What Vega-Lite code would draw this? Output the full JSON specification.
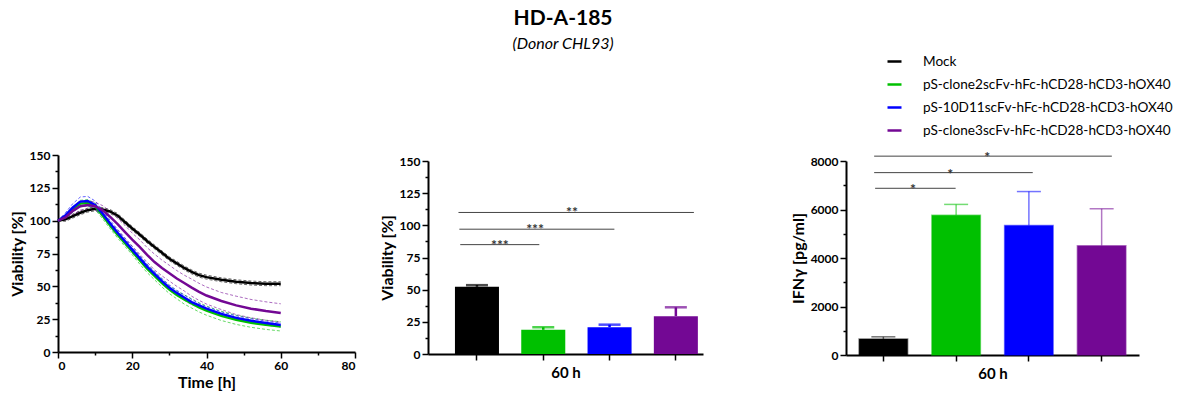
{
  "$schema": "https://vega.github.io/schema/vega-lite/v6.json",
  "padding": {"left": 9, "top": 8, "right": 3, "bottom": 5},
  "title": {
    "text": "HD-A-185",
    "subtitle": "(Donor CHL93)",
    "anchor": "middle",
    "frame": "bounds",
    "dx": -28,
    "offset": 1,
    "font": "Lato",
    "fontSize": 21,
    "fontWeight": "bold",
    "color": "black",
    "subtitleFont": "Lato",
    "subtitleFontSize": 16,
    "subtitleFontStyle": "italic",
    "subtitleColor": "black",
    "subtitlePadding": 7
  },
  "config": {
    "font": "Lato",
    "view": {"stroke": null},
    "axis": {
      "grid": false,
      "domainColor": "black",
      "domainWidth": 2,
      "tickColor": "black",
      "tickWidth": 1.5,
      "labelFont": "Lato",
      "labelFontWeight": "bold",
      "labelFontSize": 12,
      "labelColor": "black",
      "labelPadding": 2,
      "labelOverlap": false,
      "titleFont": "Lato",
      "titleFontWeight": "bold",
      "titleFontSize": 16,
      "titleColor": "black"
    }
  },
  "datasets": {
    "curves": [
      {"group": "Mock", "t": 0, "mean": 100, "lo": 100, "hi": 100},
      {"group": "Mock", "t": 2, "mean": 101, "lo": 99.5, "hi": 102.5},
      {"group": "Mock", "t": 4, "mean": 103.5, "lo": 102, "hi": 105},
      {"group": "Mock", "t": 6, "mean": 106, "lo": 104.5, "hi": 107.5},
      {"group": "Mock", "t": 8, "mean": 108, "lo": 106.5, "hi": 109.5},
      {"group": "Mock", "t": 10, "mean": 109, "lo": 107.5, "hi": 110.5},
      {"group": "Mock", "t": 12, "mean": 108.5, "lo": 107, "hi": 110},
      {"group": "Mock", "t": 14, "mean": 107, "lo": 105.5, "hi": 108.5},
      {"group": "Mock", "t": 16, "mean": 104, "lo": 102.5, "hi": 105.5},
      {"group": "Mock", "t": 18, "mean": 99, "lo": 97.5, "hi": 100.5},
      {"group": "Mock", "t": 20, "mean": 94, "lo": 92.5, "hi": 95.5},
      {"group": "Mock", "t": 22, "mean": 89.5, "lo": 88, "hi": 91},
      {"group": "Mock", "t": 24, "mean": 84.5, "lo": 83, "hi": 86},
      {"group": "Mock", "t": 26, "mean": 80, "lo": 78.5, "hi": 81.5},
      {"group": "Mock", "t": 28, "mean": 75.5, "lo": 74, "hi": 77},
      {"group": "Mock", "t": 30, "mean": 71, "lo": 69.5, "hi": 72.5},
      {"group": "Mock", "t": 32, "mean": 67.5, "lo": 66, "hi": 69},
      {"group": "Mock", "t": 34, "mean": 64, "lo": 62.5, "hi": 65.5},
      {"group": "Mock", "t": 36, "mean": 61, "lo": 59.5, "hi": 62.5},
      {"group": "Mock", "t": 38, "mean": 58.5, "lo": 57, "hi": 60},
      {"group": "Mock", "t": 40, "mean": 57, "lo": 55.5, "hi": 58.5},
      {"group": "Mock", "t": 44, "mean": 55, "lo": 53.5, "hi": 56.5},
      {"group": "Mock", "t": 48, "mean": 53.5, "lo": 52, "hi": 55},
      {"group": "Mock", "t": 52, "mean": 52.5, "lo": 51, "hi": 54},
      {"group": "Mock", "t": 56, "mean": 52, "lo": 50.5, "hi": 53.5},
      {"group": "Mock", "t": 60, "mean": 52, "lo": 50.5, "hi": 53.5},
      {"group": "pS-clone2scFv-hFc-hCD28-hCD3-hOX40", "t": 0, "mean": 100, "lo": 100, "hi": 100},
      {"group": "pS-clone2scFv-hFc-hCD28-hCD3-hOX40", "t": 2, "mean": 103, "lo": 101.5, "hi": 104.5},
      {"group": "pS-clone2scFv-hFc-hCD28-hCD3-hOX40", "t": 4, "mean": 108.5, "lo": 106.5, "hi": 110.5},
      {"group": "pS-clone2scFv-hFc-hCD28-hCD3-hOX40", "t": 6, "mean": 113, "lo": 110.5, "hi": 115.5},
      {"group": "pS-clone2scFv-hFc-hCD28-hCD3-hOX40", "t": 8, "mean": 113.5, "lo": 111, "hi": 116},
      {"group": "pS-clone2scFv-hFc-hCD28-hCD3-hOX40", "t": 10, "mean": 111, "lo": 108.5, "hi": 113.5},
      {"group": "pS-clone2scFv-hFc-hCD28-hCD3-hOX40", "t": 12, "mean": 104, "lo": 101.5, "hi": 106.5},
      {"group": "pS-clone2scFv-hFc-hCD28-hCD3-hOX40", "t": 14, "mean": 96.5, "lo": 94, "hi": 99},
      {"group": "pS-clone2scFv-hFc-hCD28-hCD3-hOX40", "t": 16, "mean": 89.5, "lo": 87, "hi": 92},
      {"group": "pS-clone2scFv-hFc-hCD28-hCD3-hOX40", "t": 18, "mean": 83, "lo": 80.5, "hi": 85.5},
      {"group": "pS-clone2scFv-hFc-hCD28-hCD3-hOX40", "t": 20, "mean": 76.5, "lo": 74, "hi": 79},
      {"group": "pS-clone2scFv-hFc-hCD28-hCD3-hOX40", "t": 22, "mean": 70, "lo": 67, "hi": 73},
      {"group": "pS-clone2scFv-hFc-hCD28-hCD3-hOX40", "t": 24, "mean": 63.5, "lo": 60.5, "hi": 66.5},
      {"group": "pS-clone2scFv-hFc-hCD28-hCD3-hOX40", "t": 26, "mean": 58, "lo": 55, "hi": 61},
      {"group": "pS-clone2scFv-hFc-hCD28-hCD3-hOX40", "t": 28, "mean": 52.5, "lo": 49.5, "hi": 55.5},
      {"group": "pS-clone2scFv-hFc-hCD28-hCD3-hOX40", "t": 30, "mean": 47.5, "lo": 44.5, "hi": 50.5},
      {"group": "pS-clone2scFv-hFc-hCD28-hCD3-hOX40", "t": 32, "mean": 43.5, "lo": 40.5, "hi": 46.5},
      {"group": "pS-clone2scFv-hFc-hCD28-hCD3-hOX40", "t": 34, "mean": 40, "lo": 36.5, "hi": 43.5},
      {"group": "pS-clone2scFv-hFc-hCD28-hCD3-hOX40", "t": 36, "mean": 37, "lo": 33.5, "hi": 40.5},
      {"group": "pS-clone2scFv-hFc-hCD28-hCD3-hOX40", "t": 38, "mean": 34, "lo": 30.5, "hi": 37.5},
      {"group": "pS-clone2scFv-hFc-hCD28-hCD3-hOX40", "t": 40, "mean": 31.5, "lo": 28, "hi": 35},
      {"group": "pS-clone2scFv-hFc-hCD28-hCD3-hOX40", "t": 44, "mean": 27.5, "lo": 24, "hi": 31},
      {"group": "pS-clone2scFv-hFc-hCD28-hCD3-hOX40", "t": 48, "mean": 24.5, "lo": 21, "hi": 28},
      {"group": "pS-clone2scFv-hFc-hCD28-hCD3-hOX40", "t": 52, "mean": 22.3, "lo": 18.8, "hi": 25.8},
      {"group": "pS-clone2scFv-hFc-hCD28-hCD3-hOX40", "t": 56, "mean": 20.7, "lo": 17.2, "hi": 24.2},
      {"group": "pS-clone2scFv-hFc-hCD28-hCD3-hOX40", "t": 60, "mean": 19.5, "lo": 16, "hi": 23},
      {"group": "pS-10D11scFv-hFc-hCD28-hCD3-hOX40", "t": 0, "mean": 100, "lo": 100, "hi": 100},
      {"group": "pS-10D11scFv-hFc-hCD28-hCD3-hOX40", "t": 2, "mean": 104, "lo": 102, "hi": 106},
      {"group": "pS-10D11scFv-hFc-hCD28-hCD3-hOX40", "t": 4, "mean": 110, "lo": 107, "hi": 113},
      {"group": "pS-10D11scFv-hFc-hCD28-hCD3-hOX40", "t": 6, "mean": 114.5, "lo": 111, "hi": 118},
      {"group": "pS-10D11scFv-hFc-hCD28-hCD3-hOX40", "t": 8, "mean": 115, "lo": 111.5, "hi": 118.5},
      {"group": "pS-10D11scFv-hFc-hCD28-hCD3-hOX40", "t": 10, "mean": 112, "lo": 109, "hi": 115},
      {"group": "pS-10D11scFv-hFc-hCD28-hCD3-hOX40", "t": 12, "mean": 105.5, "lo": 103, "hi": 108},
      {"group": "pS-10D11scFv-hFc-hCD28-hCD3-hOX40", "t": 14, "mean": 98, "lo": 95.5, "hi": 100.5},
      {"group": "pS-10D11scFv-hFc-hCD28-hCD3-hOX40", "t": 16, "mean": 91, "lo": 88.5, "hi": 93.5},
      {"group": "pS-10D11scFv-hFc-hCD28-hCD3-hOX40", "t": 18, "mean": 84.5, "lo": 82, "hi": 87},
      {"group": "pS-10D11scFv-hFc-hCD28-hCD3-hOX40", "t": 20, "mean": 78, "lo": 75.5, "hi": 80.5},
      {"group": "pS-10D11scFv-hFc-hCD28-hCD3-hOX40", "t": 22, "mean": 71.5, "lo": 69.5, "hi": 73.5},
      {"group": "pS-10D11scFv-hFc-hCD28-hCD3-hOX40", "t": 24, "mean": 65, "lo": 63, "hi": 67},
      {"group": "pS-10D11scFv-hFc-hCD28-hCD3-hOX40", "t": 26, "mean": 59.5, "lo": 57.5, "hi": 61.5},
      {"group": "pS-10D11scFv-hFc-hCD28-hCD3-hOX40", "t": 28, "mean": 54, "lo": 52, "hi": 56},
      {"group": "pS-10D11scFv-hFc-hCD28-hCD3-hOX40", "t": 30, "mean": 49, "lo": 47, "hi": 51},
      {"group": "pS-10D11scFv-hFc-hCD28-hCD3-hOX40", "t": 32, "mean": 45, "lo": 43, "hi": 47},
      {"group": "pS-10D11scFv-hFc-hCD28-hCD3-hOX40", "t": 34, "mean": 41.5, "lo": 39.5, "hi": 43.5},
      {"group": "pS-10D11scFv-hFc-hCD28-hCD3-hOX40", "t": 36, "mean": 38, "lo": 36, "hi": 40},
      {"group": "pS-10D11scFv-hFc-hCD28-hCD3-hOX40", "t": 38, "mean": 35.5, "lo": 34, "hi": 37},
      {"group": "pS-10D11scFv-hFc-hCD28-hCD3-hOX40", "t": 40, "mean": 33, "lo": 31.5, "hi": 34.5},
      {"group": "pS-10D11scFv-hFc-hCD28-hCD3-hOX40", "t": 44, "mean": 29, "lo": 27.5, "hi": 30.5},
      {"group": "pS-10D11scFv-hFc-hCD28-hCD3-hOX40", "t": 48, "mean": 26, "lo": 24.5, "hi": 27.5},
      {"group": "pS-10D11scFv-hFc-hCD28-hCD3-hOX40", "t": 52, "mean": 23.8, "lo": 22.3, "hi": 25.3},
      {"group": "pS-10D11scFv-hFc-hCD28-hCD3-hOX40", "t": 56, "mean": 22, "lo": 20.5, "hi": 23.5},
      {"group": "pS-10D11scFv-hFc-hCD28-hCD3-hOX40", "t": 60, "mean": 20.5, "lo": 19, "hi": 22},
      {"group": "pS-clone3scFv-hFc-hCD28-hCD3-hOX40", "t": 0, "mean": 100, "lo": 100, "hi": 100},
      {"group": "pS-clone3scFv-hFc-hCD28-hCD3-hOX40", "t": 2, "mean": 102.5, "lo": 100.5, "hi": 104.5},
      {"group": "pS-clone3scFv-hFc-hCD28-hCD3-hOX40", "t": 4, "mean": 107.5, "lo": 104.5, "hi": 110.5},
      {"group": "pS-clone3scFv-hFc-hCD28-hCD3-hOX40", "t": 6, "mean": 111, "lo": 108, "hi": 114},
      {"group": "pS-clone3scFv-hFc-hCD28-hCD3-hOX40", "t": 8, "mean": 112, "lo": 109, "hi": 115},
      {"group": "pS-clone3scFv-hFc-hCD28-hCD3-hOX40", "t": 10, "mean": 111, "lo": 108, "hi": 114},
      {"group": "pS-clone3scFv-hFc-hCD28-hCD3-hOX40", "t": 12, "mean": 108, "lo": 104.5, "hi": 111.5},
      {"group": "pS-clone3scFv-hFc-hCD28-hCD3-hOX40", "t": 14, "mean": 103, "lo": 99, "hi": 107},
      {"group": "pS-clone3scFv-hFc-hCD28-hCD3-hOX40", "t": 16, "mean": 97.5, "lo": 93, "hi": 102},
      {"group": "pS-clone3scFv-hFc-hCD28-hCD3-hOX40", "t": 18, "mean": 91.5, "lo": 86.5, "hi": 96.5},
      {"group": "pS-clone3scFv-hFc-hCD28-hCD3-hOX40", "t": 20, "mean": 85.5, "lo": 80.5, "hi": 90.5},
      {"group": "pS-clone3scFv-hFc-hCD28-hCD3-hOX40", "t": 22, "mean": 80, "lo": 74.5, "hi": 85.5},
      {"group": "pS-clone3scFv-hFc-hCD28-hCD3-hOX40", "t": 24, "mean": 74, "lo": 68.5, "hi": 79.5},
      {"group": "pS-clone3scFv-hFc-hCD28-hCD3-hOX40", "t": 26, "mean": 68.5, "lo": 62.5, "hi": 74.5},
      {"group": "pS-clone3scFv-hFc-hCD28-hCD3-hOX40", "t": 28, "mean": 64, "lo": 58, "hi": 70},
      {"group": "pS-clone3scFv-hFc-hCD28-hCD3-hOX40", "t": 30, "mean": 60, "lo": 54, "hi": 66},
      {"group": "pS-clone3scFv-hFc-hCD28-hCD3-hOX40", "t": 32, "mean": 56, "lo": 50, "hi": 62},
      {"group": "pS-clone3scFv-hFc-hCD28-hCD3-hOX40", "t": 34, "mean": 52.5, "lo": 46.5, "hi": 58.5},
      {"group": "pS-clone3scFv-hFc-hCD28-hCD3-hOX40", "t": 36, "mean": 49, "lo": 42.5, "hi": 55.5},
      {"group": "pS-clone3scFv-hFc-hCD28-hCD3-hOX40", "t": 38, "mean": 45.8, "lo": 39.3, "hi": 52.3},
      {"group": "pS-clone3scFv-hFc-hCD28-hCD3-hOX40", "t": 40, "mean": 43, "lo": 36.5, "hi": 49.5},
      {"group": "pS-clone3scFv-hFc-hCD28-hCD3-hOX40", "t": 44, "mean": 38.8, "lo": 32.3, "hi": 45.3},
      {"group": "pS-clone3scFv-hFc-hCD28-hCD3-hOX40", "t": 48, "mean": 35.5, "lo": 28.5, "hi": 42.5},
      {"group": "pS-clone3scFv-hFc-hCD28-hCD3-hOX40", "t": 52, "mean": 33, "lo": 26, "hi": 40},
      {"group": "pS-clone3scFv-hFc-hCD28-hCD3-hOX40", "t": 56, "mean": 31.2, "lo": 24.2, "hi": 38.2},
      {"group": "pS-clone3scFv-hFc-hCD28-hCD3-hOX40", "t": 60, "mean": 29.7, "lo": 22.7, "hi": 36.7}
    ],
    "viability": [
      {"group": "Mock", "value": 52.3, "top": 53.5},
      {"group": "pS-clone2scFv-hFc-hCD28-hCD3-hOX40", "value": 18.8, "top": 20.8},
      {"group": "pS-10D11scFv-hFc-hCD28-hCD3-hOX40", "value": 20.8, "top": 22.8},
      {"group": "pS-clone3scFv-hFc-hCD28-hCD3-hOX40", "value": 29.4, "top": 36.3}
    ],
    "ifng": [
      {"group": "Mock", "value": 660, "top": 750},
      {"group": "pS-clone2scFv-hFc-hCD28-hCD3-hOX40", "value": 5760, "top": 6210},
      {"group": "pS-10D11scFv-hFc-hCD28-hCD3-hOX40", "value": 5340, "top": 6740},
      {"group": "pS-clone3scFv-hFc-hCD28-hCD3-hOX40", "value": 4510, "top": 6030}
    ],
    "sig": [
      {"id": "v1", "from": "Mock", "to": "pS-clone2scFv-hFc-hCD28-hCD3-hOX40", "y": 85, "label": "***"},
      {"id": "v2", "from": "Mock", "to": "pS-10D11scFv-hFc-hCD28-hCD3-hOX40", "y": 97, "label": "***"},
      {"id": "v3", "from": "Mock", "to": "pS-clone3scFv-hFc-hCD28-hCD3-hOX40", "y": 110, "label": "**"},
      {"id": "i1", "from": "Mock", "to": "pS-clone2scFv-hFc-hCD28-hCD3-hOX40", "y": 6875, "label": "*"},
      {"id": "i2", "from": "Mock", "to": "pS-10D11scFv-hFc-hCD28-hCD3-hOX40", "y": 7520, "label": "*"},
      {"id": "i3", "from": "Mock", "to": "pS-clone3scFv-hFc-hCD28-hCD3-hOX40", "y": 8200, "label": "*"}
    ]
  },
  "spacing": 87,
  "hconcat": [
    {
      "spacing": 23,
      "hconcat": [
        {
          "width": 297,
          "height": 197,
          "data": {"name": "curves"},
          "encoding": {
            "x": {
              "field": "t", "type": "quantitative",
              "scale": {"domain": [0, 80], "nice": false},
              "axis": {
                "title": "Time [h]", "titlePadding": 3, "labelOverlap": false, "tickCount": 20,
                "values": [0, 10, 20, 30, 40, 50, 60, 70, 80],
                "labelExpr": "datum.value % 20 === 0 ? datum.value : ''",
                "tickSize": {"condition": {"test": "datum.value % 20 === 0", "value": 6}, "value": 3}
              }
            }
          },
          "layer": [
            {
              "mark": {"type": "line", "strokeWidth": 1, "strokeDash": [3, 2], "opacity": 0.6},
              "encoding": {
                "y": {
                  "field": "hi", "type": "quantitative",
                  "scale": {"domain": [0, 150], "nice": false},
                  "axis": {
                    "title": "Viability [%]", "titlePadding": 4, "labelOverlap": false, "tickCount": 20,
                    "values": [0, 12.5, 25, 37.5, 50, 62.5, 75, 87.5, 100, 112.5, 125, 137.5, 150],
                    "labelExpr": "datum.value % 25 === 0 ? datum.value : ''",
                    "tickSize": {"condition": {"test": "datum.value % 25 === 0", "value": 6}, "value": 3}
                  }
                },
                "stroke": {
                  "field": "group", "type": "nominal", "legend": null,
                  "scale": {"range": ["#000000", "#0000ff", "#00c000", "#730894"]}
                }
              }
            },
            {
              "mark": {"type": "line", "strokeWidth": 1, "strokeDash": [3, 2], "opacity": 0.6},
              "encoding": {
                "y": {"field": "lo", "type": "quantitative", "title": "Viability [%]"},
                "stroke": {"field": "group", "type": "nominal", "legend": null}
              }
            },
            {
              "mark": {"type": "line", "strokeWidth": 2.5},
              "encoding": {
                "y": {"field": "mean", "type": "quantitative", "title": "Viability [%]"},
                "color": {
                  "field": "group", "type": "nominal",
                  "scale": {
                    "domain": ["Mock", "pS-clone2scFv-hFc-hCD28-hCD3-hOX40", "pS-10D11scFv-hFc-hCD28-hCD3-hOX40", "pS-clone3scFv-hFc-hCD28-hCD3-hOX40"],
                    "range": ["#000000", "#00c000", "#0000ff", "#730894"]
                  },
                  "legend": {
                    "orient": "none", "legendX": 828, "legendY": -102,
                    "title": null, "padding": 0,
                    "labelFont": "Lato", "labelFontSize": 13.6, "labelFontWeight": "normal", "labelColor": "black",
                    "symbolType": "stroke", "symbolSize": 196, "symbolStrokeWidth": 2.5,
                    "labelOffset": 20, "rowPadding": 7, "labelLimit": 400
                  }
                }
              }
            }
          ]
        },
        {
          "width": 275,
          "height": 199,
          "encoding": {
            "x": {
              "field": "group", "type": "nominal",
              "scale": {
                "domain": ["Mock", "pS-clone2scFv-hFc-hCD28-hCD3-hOX40", "pS-10D11scFv-hFc-hCD28-hCD3-hOX40", "pS-clone3scFv-hFc-hCD28-hCD3-hOX40"],
                "paddingInner": 0.336, "paddingOuter": 0.242, "align": 0.84
              },
              "axis": {"title": "60 h", "titleFontSize": 15, "titlePadding": 5, "labels": false, "tickSize": 6}
            }
          },
          "layer": [
            {
              "data": {"name": "viability"},
              "mark": {"type": "bar"},
              "encoding": {
                "y": {
                  "field": "value", "type": "quantitative",
                  "scale": {"domain": [0, 150], "nice": false, "range": [199, 6]},
                  "axis": {
                    "title": "Viability [%]", "titlePadding": 4, "labelOverlap": false, "tickCount": 20,
                    "values": [0, 12.5, 25, 37.5, 50, 62.5, 75, 87.5, 100, 112.5, 125, 137.5, 150],
                    "labelExpr": "datum.value % 25 === 0 ? datum.value : ''",
                    "tickSize": {"condition": {"test": "datum.value % 25 === 0", "value": 6}, "value": 3}
                  }
                },
                "fill": {
                  "field": "group", "type": "nominal", "legend": null,
                  "scale": {"range": ["#000000", "#0000ff", "#00c000", "#730894"]}
                }
              }
            },
            {
              "data": {"name": "viability"},
              "mark": {"type": "rule", "strokeWidth": 2.5},
              "encoding": {
                "y": {"field": "value", "type": "quantitative"},
                "y2": {"field": "top"},
                "stroke": {"field": "group", "type": "nominal", "legend": null}
              }
            },
            {
              "data": {"name": "viability"},
              "mark": {"type": "tick", "thickness": 2.5, "size": 22, "orient": "horizontal"},
              "encoding": {
                "y": {"field": "top", "type": "quantitative"},
                "fill": {"field": "group", "type": "nominal", "legend": null}
              }
            },
            {
              "data": {"name": "sig"},
              "transform": [{"filter": "datum.id === 'v1'"}],
              "mark": {"type": "rule", "color": "#444", "strokeWidth": 1},
              "encoding": {
                "x": {"field": "from", "type": "nominal", "bandPosition": 0.12},
                "x2": {"field": "to", "bandPosition": 0.41},
                "y": {"field": "y", "type": "quantitative"}
              }
            },
            {
              "data": {"name": "sig"},
              "transform": [{"filter": "datum.id === 'v2'"}],
              "mark": {"type": "rule", "color": "#444", "strokeWidth": 1},
              "encoding": {
                "x": {"field": "from", "type": "nominal", "bandPosition": 0.1},
                "x2": {"field": "to", "bandPosition": 0.61},
                "y": {"field": "y", "type": "quantitative"}
              }
            },
            {
              "data": {"name": "sig"},
              "transform": [{"filter": "datum.id === 'v3'"}],
              "mark": {"type": "rule", "color": "#444", "strokeWidth": 1},
              "encoding": {
                "x": {"field": "from", "type": "nominal", "bandPosition": 0.08},
                "x2": {"field": "to", "bandPosition": 0.91},
                "y": {"field": "y", "type": "quantitative"}
              }
            },
            {
              "data": {"name": "sig"},
              "transform": [{"filter": "datum.id === 'v1'"}],
              "mark": {"type": "text", "color": "#333", "fontSize": 14, "fontWeight": "bold", "baseline": "alphabetic", "dy": 5},
              "encoding": {
                "x": {"field": "from", "type": "nominal", "bandPosition": 1.02},
                "y": {"field": "y", "type": "quantitative"},
                "text": {"field": "label"}
              }
            },
            {
              "data": {"name": "sig"},
              "transform": [{"filter": "datum.id === 'v2'"}],
              "mark": {"type": "text", "color": "#333", "fontSize": 14, "fontWeight": "bold", "baseline": "alphabetic", "dy": 5},
              "encoding": {
                "x": {"field": "from", "type": "nominal", "bandPosition": 1.82},
                "y": {"field": "y", "type": "quantitative"},
                "text": {"field": "label"}
              }
            },
            {
              "data": {"name": "sig"},
              "transform": [{"filter": "datum.id === 'v3'"}],
              "mark": {"type": "text", "color": "#333", "fontSize": 14, "fontWeight": "bold", "baseline": "alphabetic", "dy": 5},
              "encoding": {
                "x": {"field": "from", "type": "nominal", "bandPosition": 2.66},
                "y": {"field": "y", "type": "quantitative"},
                "text": {"field": "label"}
              }
            }
          ]
        }
      ]
    },
    {
      "width": 293,
      "height": 200,
      "encoding": {
        "x": {
          "field": "group", "type": "nominal",
          "scale": {
            "domain": ["Mock", "pS-clone2scFv-hFc-hCD28-hCD3-hOX40", "pS-10D11scFv-hFc-hCD28-hCD3-hOX40", "pS-clone3scFv-hFc-hCD28-hCD3-hOX40"],
            "paddingInner": 0.333, "paddingOuter": 0.18, "align": 0.5
          },
          "axis": {"title": "60 h", "titleFontSize": 15, "titlePadding": 5, "labels": false, "tickSize": 6}
        }
      },
      "layer": [
        {
          "data": {"name": "ifng"},
          "mark": {"type": "bar", "strokeWidth": 1.5, "strokeOpacity": 0.5},
          "encoding": {
            "y": {
              "field": "value", "type": "quantitative",
              "scale": {"domain": [0, 8000], "nice": false, "range": [200, 6]},
              "axis": {
                "title": "IFNγ [pg/ml]", "titlePadding": 4, "labelOverlap": false, "tickCount": 20,
                "values": [0, 1000, 2000, 3000, 4000, 5000, 6000, 7000, 8000],
                "labelExpr": "datum.value % 2000 === 0 ? datum.value : ''",
                "tickSize": {"condition": {"test": "datum.value % 2000 === 0", "value": 6}, "value": 3}
              }
            },
            "fill": {"field": "group", "type": "nominal", "legend": null},
            "stroke": {"field": "group", "type": "nominal", "legend": null}
          }
        },
        {
          "data": {"name": "ifng"},
          "mark": {"type": "rule", "strokeWidth": 1.5, "opacity": 0.55},
          "encoding": {
            "y": {"field": "value", "type": "quantitative"},
            "y2": {"field": "top"},
            "stroke": {"field": "group", "type": "nominal", "legend": null}
          }
        },
        {
          "data": {"name": "ifng"},
          "mark": {"type": "tick", "thickness": 1.5, "size": 24, "orient": "horizontal", "opacity": 0.55},
          "encoding": {
            "y": {"field": "top", "type": "quantitative"},
            "fill": {"field": "group", "type": "nominal", "legend": null}
          }
        },
        {
          "data": {"name": "sig"},
          "transform": [{"filter": "datum.id === 'i1'"}],
          "mark": {"type": "rule", "color": "#444", "strokeWidth": 1},
          "encoding": {
            "x": {"field": "from", "type": "nominal", "bandPosition": 0.33},
            "x2": {"field": "to", "bandPosition": 0.49},
            "y": {"field": "y", "type": "quantitative"}
          }
        },
        {
          "data": {"name": "sig"},
          "transform": [{"filter": "datum.id === 'i2'"}],
          "mark": {"type": "rule", "color": "#444", "strokeWidth": 1},
          "encoding": {
            "x": {"field": "from", "type": "nominal", "bandPosition": 0.31},
            "x2": {"field": "to", "bandPosition": 0.58},
            "y": {"field": "y", "type": "quantitative"}
          }
        },
        {
          "data": {"name": "sig"},
          "transform": [{"filter": "datum.id === 'i3'"}],
          "mark": {"type": "rule", "color": "#444", "strokeWidth": 1},
          "encoding": {
            "x": {"field": "from", "type": "nominal", "bandPosition": 0.31},
            "x2": {"field": "to", "bandPosition": 0.71},
            "y": {"field": "y", "type": "quantitative"}
          }
        },
        {
          "data": {"name": "sig"},
          "transform": [{"filter": "datum.id === 'i1'"}],
          "mark": {"type": "text", "color": "#333", "fontSize": 14, "fontWeight": "bold", "baseline": "alphabetic", "dy": 6},
          "encoding": {
            "x": {"field": "from", "type": "nominal", "bandPosition": 1.11},
            "y": {"field": "y", "type": "quantitative"},
            "text": {"field": "label"}
          }
        },
        {
          "data": {"name": "sig"},
          "transform": [{"filter": "datum.id === 'i2'"}],
          "mark": {"type": "text", "color": "#333", "fontSize": 14, "fontWeight": "bold", "baseline": "alphabetic", "dy": 6},
          "encoding": {
            "x": {"field": "from", "type": "nominal", "bandPosition": 1.88},
            "y": {"field": "y", "type": "quantitative"},
            "text": {"field": "label"}
          }
        },
        {
          "data": {"name": "sig"},
          "transform": [{"filter": "datum.id === 'i3'"}],
          "mark": {"type": "text", "color": "#333", "fontSize": 14, "fontWeight": "bold", "baseline": "alphabetic", "dy": 6},
          "encoding": {
            "x": {"field": "from", "type": "nominal", "bandPosition": 2.64},
            "y": {"field": "y", "type": "quantitative"},
            "text": {"field": "label"}
          }
        }
      ]
    }
  ]
}
